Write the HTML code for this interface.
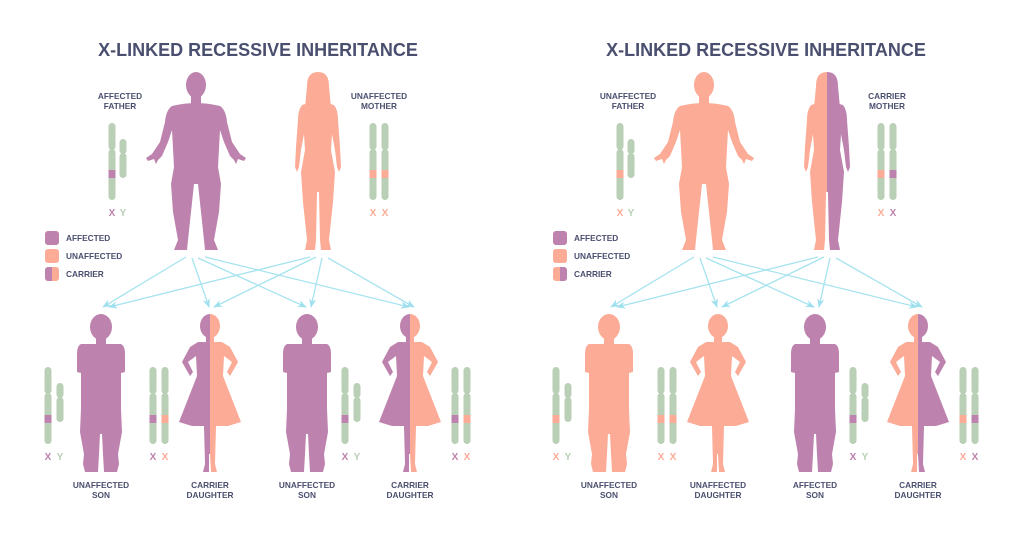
<!DOCTYPE html>
<html><head><meta charset="utf-8"><style>
html,body{margin:0;padding:0;background:#fff;}
svg{display:block;font-family:"Liberation Sans",sans-serif;}
.t{font-weight:bold;font-size:18px;fill:#4b4f6f;text-anchor:middle;}
.l{font-weight:bold;font-size:8.3px;fill:#4b4f6f;text-anchor:middle;}
.lg{font-weight:bold;font-size:8.3px;fill:#4b4f6f;}
.xy{font-weight:bold;font-size:10px;text-anchor:middle;}
</style></head><body>
<svg width="1024" height="541" viewBox="0 0 1024 541" xmlns="http://www.w3.org/2000/svg">
<defs>
<linearGradient id="ps" x1="0" x2="1" y1="0" y2="0"><stop offset="0.5" stop-color="#bd82ad"/><stop offset="0.5" stop-color="#fbab96"/></linearGradient>
<linearGradient id="sp" x1="0" x2="1" y1="0" y2="0"><stop offset="0.5" stop-color="#fbab96"/><stop offset="0.5" stop-color="#bd82ad"/></linearGradient>
<marker id="ar" viewBox="0 0 10 10" refX="9" refY="5" markerWidth="7" markerHeight="7" orient="auto"><path d="M0,1 L10,5 L0,9 L3,5Z" fill="#9fe0ee"/></marker>
<g id="man">
<ellipse cx="0" cy="13" rx="10" ry="13"/>
<rect x="-5" y="22" width="10" height="13"/>
<path d="M-24,34 Q0,28 24,34 Q30,38 31,50 L36,70 L44,82 L50,86 L48,89 L42,87 L40,92 L38,88 L34,84 L28,70 L24,58 L22,95 L25,112 L23,140 L18,168 L22,178 L9,178 L8,168 L5,140 L2,112 L-2,112 L-5,140 L-8,168 L-9,178 L-22,178 L-18,168 L-23,140 L-25,112 L-22,95 L-24,58 L-28,70 L-34,84 L-38,88 L-40,92 L-42,87 L-48,89 L-50,86 L-44,82 L-36,70 L-31,50 Q-30,38 -24,34 Z"/>
</g>
<g id="woman">
<path d="M-11,14 Q-11,0 0,0 Q11,0 11,14 L13,36 L-13,36 Z"/>
<rect x="-4" y="22" width="8" height="12"/>
<path d="M-16,33 Q0,28 16,33 Q20,38 20,48 L22,75 L23,95 L21,100 L19,95 L17,78 L14,62 L13,78 L17,100 L15,130 L11,168 L13,178 L3,178 L2,168 L1,120 L-1,120 L-2,168 L-3,178 L-13,178 L-11,168 L-15,130 L-17,100 L-13,78 L-14,62 L-17,78 L-19,95 L-21,100 L-23,95 L-22,75 L-20,48 Q-20,38 -16,33 Z"/>
</g>
<g id="boy">
<ellipse cx="0" cy="13" rx="11" ry="13"/>
<rect x="-5" y="22" width="10" height="10"/>
<path d="M-20,30 L20,30 Q24,32 24,40 L24,58 L20,59 L20,95 L21,118 L17,140 L18,150 L16,158 L3,158 L2,140 L1,120 L-1,120 L-2,140 L-3,158 L-16,158 L-18,150 L-17,140 L-21,118 L-20,95 L-20,59 L-24,58 L-24,40 Q-24,32 -20,30 Z"/>
</g>
<g id="girl">
<ellipse cx="0" cy="12" rx="10" ry="12"/>
<rect x="-4" y="20" width="8" height="10"/>
<path d="M-12,28 L12,28 L20,33 L28,48 L20,62 L17,58 L22,48 L14,42 L13,62 L31,108 L18,112 L6,112 L5,150 L7,158 L1,158 L0,140 L-1,140 L-1,158 L-7,158 L-5,150 L-6,112 L-18,112 L-31,108 L-13,62 L-14,42 L-22,48 L-17,58 L-20,62 L-28,48 L-20,33 Z"/>
</g>
<g id="cx" fill="#b9cfb6"><rect x="-3.5" y="0" width="7" height="27" rx="3.5"/><rect x="-3.5" y="26" width="7" height="51" rx="3.5"/></g>
<g id="cy" fill="#b9cfb6"><rect x="-3.5" y="0" width="7" height="15" rx="3.5"/><rect x="-3.5" y="14" width="7" height="25" rx="3.5"/></g>
</defs>

<g>
<text class="t" x="258" y="56">X-LINKED RECESSIVE INHERITANCE</text>
<text class="l" x="120" y="99">AFFECTED</text><text class="l" x="120" y="109">FATHER</text>
<text class="l" x="379" y="99">UNAFFECTED</text><text class="l" x="379" y="109">MOTHER</text>
<use href="#man" x="196" y="72" fill="#bd82ad"/>
<use href="#woman" x="318" y="72" fill="#fbab96"/>
<use href="#cx" x="112" y="123"/><rect x="108.5" y="170" width="7" height="8" fill="#bd82ad"/>
<use href="#cy" x="123" y="139"/>
<text class="xy" x="112" y="216" fill="#bd82ad">X</text><text class="xy" x="123" y="216" fill="#b9cfb6">Y</text>
<use href="#cx" x="373" y="123"/><rect x="369.5" y="170" width="7" height="8" fill="#fbab96"/>
<use href="#cx" x="385" y="123"/><rect x="381.5" y="170" width="7" height="8" fill="#fbab96"/>
<text class="xy" x="373" y="216" fill="#fbab96">X</text><text class="xy" x="385" y="216" fill="#fbab96">X</text>
<rect x="45" y="231" width="14" height="14" rx="3" fill="#bd82ad"/><text class="lg" x="66" y="241">AFFECTED</text>
<rect x="45" y="249" width="14" height="14" rx="3" fill="#fbab96"/><text class="lg" x="66" y="259">UNAFFECTED</text>
<rect x="45" y="267" width="14" height="14" rx="3" fill="url(#ps)"/><text class="lg" x="66" y="277">CARRIER</text>
<g stroke="#a6e3ef" stroke-width="1.3" fill="none" marker-end="url(#ar)">
<line x1="186" y1="257" x2="103" y2="307"/><line x1="192" y1="258" x2="209" y2="307"/><line x1="198" y1="258" x2="306" y2="307"/><line x1="205" y1="257" x2="409" y2="307"/>
<line x1="310" y1="257" x2="109" y2="307"/><line x1="316" y1="257" x2="214" y2="307"/><line x1="322" y1="258" x2="311" y2="307"/><line x1="328" y1="258" x2="414" y2="307"/>
</g>
<use href="#boy" x="101" y="314" fill="#bd82ad"/>
<use href="#girl" x="210" y="314" fill="url(#ps)"/>
<use href="#boy" x="307" y="314" fill="#bd82ad"/>
<use href="#girl" x="410" y="314" fill="url(#ps)"/>
<use href="#cx" x="48" y="367"/><rect x="44.5" y="415" width="7" height="8" fill="#bd82ad"/><use href="#cy" x="60" y="383"/>
<text class="xy" x="48" y="460" fill="#bd82ad">X</text><text class="xy" x="60" y="460" fill="#b9cfb6">Y</text>
<use href="#cx" x="153" y="367"/><rect x="149.5" y="415" width="7" height="8" fill="#bd82ad"/><use href="#cx" x="165" y="367"/><rect x="161.5" y="415" width="7" height="8" fill="#fbab96"/>
<text class="xy" x="153" y="460" fill="#bd82ad">X</text><text class="xy" x="165" y="460" fill="#fbab96">X</text>
<use href="#cx" x="345" y="367"/><rect x="341.5" y="415" width="7" height="8" fill="#bd82ad"/><use href="#cy" x="357" y="383"/>
<text class="xy" x="345" y="460" fill="#bd82ad">X</text><text class="xy" x="357" y="460" fill="#b9cfb6">Y</text>
<use href="#cx" x="455" y="367"/><rect x="451.5" y="415" width="7" height="8" fill="#bd82ad"/><use href="#cx" x="467" y="367"/><rect x="463.5" y="415" width="7" height="8" fill="#fbab96"/>
<text class="xy" x="455" y="460" fill="#bd82ad">X</text><text class="xy" x="467" y="460" fill="#fbab96">X</text>
<text class="l" x="101" y="488">UNAFFECTED</text><text class="l" x="101" y="498">SON</text>
<text class="l" x="210" y="488">CARRIER</text><text class="l" x="210" y="498">DAUGHTER</text>
<text class="l" x="307" y="488">UNAFFECTED</text><text class="l" x="307" y="498">SON</text>
<text class="l" x="410" y="488">CARRIER</text><text class="l" x="410" y="498">DAUGHTER</text>
</g>

<g transform="translate(508,0)">
<text class="t" x="258" y="56">X-LINKED RECESSIVE INHERITANCE</text>
<text class="l" x="120" y="99">UNAFFECTED</text><text class="l" x="120" y="109">FATHER</text>
<text class="l" x="379" y="99">CARRIER</text><text class="l" x="379" y="109">MOTHER</text>
<use href="#man" x="196" y="72" fill="#fbab96"/>
<use href="#woman" x="319" y="72" fill="url(#sp)"/>
<use href="#cx" x="112" y="123"/><rect x="108.5" y="170" width="7" height="8" fill="#fbab96"/>
<use href="#cy" x="123" y="139"/>
<text class="xy" x="112" y="216" fill="#fbab96">X</text><text class="xy" x="123" y="216" fill="#b9cfb6">Y</text>
<use href="#cx" x="373" y="123"/><rect x="369.5" y="170" width="7" height="8" fill="#fbab96"/>
<use href="#cx" x="385" y="123"/><rect x="381.5" y="170" width="7" height="8" fill="#bd82ad"/>
<text class="xy" x="373" y="216" fill="#fbab96">X</text><text class="xy" x="385" y="216" fill="#bd82ad">X</text>
<rect x="45" y="231" width="14" height="14" rx="3" fill="#bd82ad"/><text class="lg" x="66" y="241">AFFECTED</text>
<rect x="45" y="249" width="14" height="14" rx="3" fill="#fbab96"/><text class="lg" x="66" y="259">UNAFFECTED</text>
<rect x="45" y="267" width="14" height="14" rx="3" fill="url(#sp)"/><text class="lg" x="66" y="277">CARRIER</text>
<g stroke="#a6e3ef" stroke-width="1.3" fill="none" marker-end="url(#ar)">
<line x1="186" y1="257" x2="103" y2="307"/><line x1="192" y1="258" x2="209" y2="307"/><line x1="198" y1="258" x2="306" y2="307"/><line x1="205" y1="257" x2="409" y2="307"/>
<line x1="310" y1="257" x2="109" y2="307"/><line x1="316" y1="257" x2="214" y2="307"/><line x1="322" y1="258" x2="311" y2="307"/><line x1="328" y1="258" x2="414" y2="307"/>
</g>
<use href="#boy" x="101" y="314" fill="#fbab96"/>
<use href="#girl" x="210" y="314" fill="#fbab96"/>
<use href="#boy" x="307" y="314" fill="#bd82ad"/>
<use href="#girl" x="410" y="314" fill="url(#sp)"/>
<use href="#cx" x="48" y="367"/><rect x="44.5" y="415" width="7" height="8" fill="#fbab96"/><use href="#cy" x="60" y="383"/>
<text class="xy" x="48" y="460" fill="#fbab96">X</text><text class="xy" x="60" y="460" fill="#b9cfb6">Y</text>
<use href="#cx" x="153" y="367"/><rect x="149.5" y="415" width="7" height="8" fill="#fbab96"/><use href="#cx" x="165" y="367"/><rect x="161.5" y="415" width="7" height="8" fill="#fbab96"/>
<text class="xy" x="153" y="460" fill="#fbab96">X</text><text class="xy" x="165" y="460" fill="#fbab96">X</text>
<use href="#cx" x="345" y="367"/><rect x="341.5" y="415" width="7" height="8" fill="#bd82ad"/><use href="#cy" x="357" y="383"/>
<text class="xy" x="345" y="460" fill="#bd82ad">X</text><text class="xy" x="357" y="460" fill="#b9cfb6">Y</text>
<use href="#cx" x="455" y="367"/><rect x="451.5" y="415" width="7" height="8" fill="#fbab96"/><use href="#cx" x="467" y="367"/><rect x="463.5" y="415" width="7" height="8" fill="#bd82ad"/>
<text class="xy" x="455" y="460" fill="#fbab96">X</text><text class="xy" x="467" y="460" fill="#bd82ad">X</text>
<text class="l" x="101" y="488">UNAFFECTED</text><text class="l" x="101" y="498">SON</text>
<text class="l" x="210" y="488">UNAFFECTED</text><text class="l" x="210" y="498">DAUGHTER</text>
<text class="l" x="307" y="488">AFFECTED</text><text class="l" x="307" y="498">SON</text>
<text class="l" x="410" y="488">CARRIER</text><text class="l" x="410" y="498">DAUGHTER</text>
</g>
</svg>
</body></html>
